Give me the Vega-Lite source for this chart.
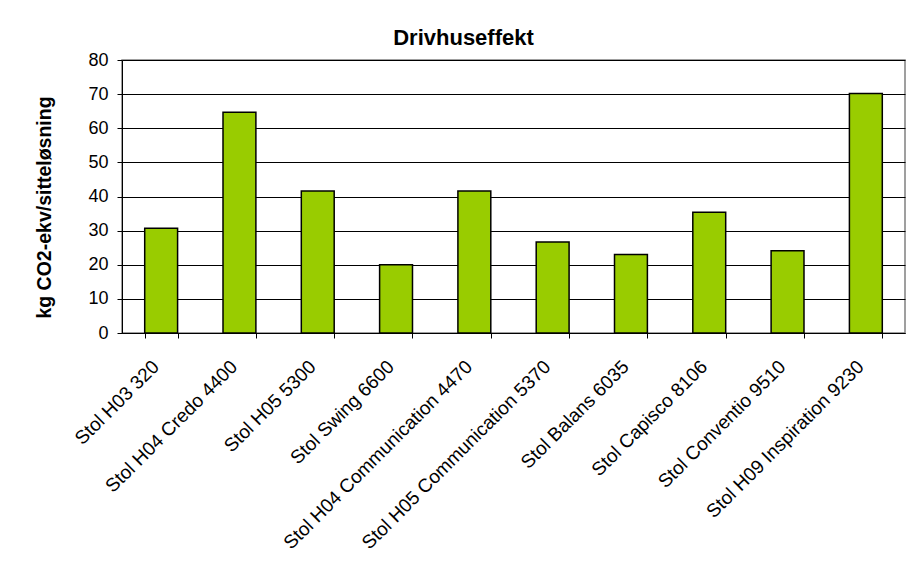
{
  "$schema": "https://vega.github.io/schema/vega-lite/v6.json",
  "width": 783,
  "height": 273,
  "autosize": {"type": "none"},
  "padding": {"left": 122, "top": 60, "right": 7, "bottom": 242},
  "background": "#ffffff",
  "title": {
    "text": "Drivhuseffekt",
    "font": "Liberation Sans",
    "fontSize": 22,
    "fontWeight": "bold",
    "color": "#000000",
    "anchor": "middle",
    "dx": -50,
    "offset": 1
  },
  "data": {
    "values": [
      {"stol": "Stol H03 320", "co2": 30.7},
      {"stol": "Stol H04 Credo 4400", "co2": 64.7},
      {"stol": "Stol H05 5300", "co2": 41.6},
      {"stol": "Stol Swing 6600", "co2": 20.0},
      {"stol": "Stol H04 Communication 4470", "co2": 41.6},
      {"stol": "Stol H05 Communication 5370", "co2": 26.7},
      {"stol": "Stol Balans 6035", "co2": 23.0},
      {"stol": "Stol Capisco 8106", "co2": 35.4},
      {"stol": "Stol Conventio 9510", "co2": 24.1},
      {"stol": "Stol H09 Inspiration 9230", "co2": 70.2}
    ]
  },
  "mark": {"type": "bar", "color": "#99CC00", "stroke": "#000000", "strokeWidth": 1.5},
  "encoding": {
    "x": {
      "field": "stol",
      "type": "nominal",
      "sort": null,
      "scale": {"paddingInner": 0.58, "paddingOuter": 0.29},
      "axis": {
        "title": null,
        "labelAngle": -45,
        "labelAlign": "right",
        "labelBaseline": "top",
        "labelFont": "Liberation Sans",
        "labelFontSize": 19,
        "labelColor": "#000000",
        "labelPadding": 19,
        "labelOffset": -12,
        "labelOverlap": false,
        "labelLimit": 400,
        "tickBand": "extent",
        "tickSize": 5,
        "tickColor": "#000000",
        "domainColor": "#000000",
        "grid": false
      }
    },
    "y": {
      "field": "co2",
      "type": "quantitative",
      "scale": {"domain": [0, 80], "nice": false},
      "axis": {
        "title": "kg CO2-ekv/sitteløsning",
        "titleFont": "Liberation Sans",
        "titleFontSize": 19.5,
        "titleFontWeight": "bold",
        "titleColor": "#000000",
        "titlePadding": 33,
        "titleY": 147,
        "values": [0, 10, 20, 30, 40, 50, 60, 70, 80],
        "labelFont": "Liberation Sans",
        "labelFontSize": 18,
        "labelColor": "#000000",
        "labelPadding": 9,
        "tickSize": 5,
        "tickColor": "#000000",
        "domainColor": "#000000",
        "grid": true,
        "gridColor": "#000000",
        "gridWidth": 1
      }
    }
  },
  "config": {
    "view": {"stroke": "#808080", "strokeWidth": 1.5}
  }
}
